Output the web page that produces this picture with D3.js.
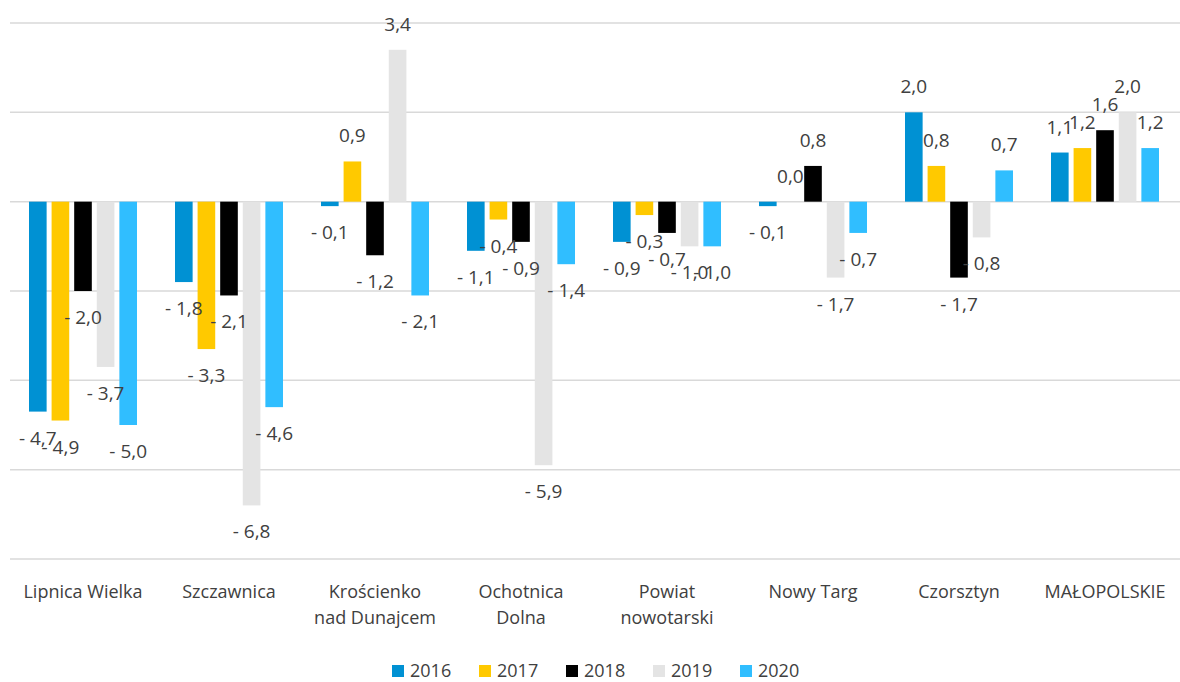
<!DOCTYPE html>
<html>
<head>
<meta charset="utf-8">
<script src="https://cdn.jsdelivr.net/npm/d3@7"></script>
<style>
  body { margin: 0; background: #fff; }
  svg text { font-family: "Open Sans", Lato, sans-serif; fill: #404040; }
</style>
</head>
<body>
<svg id="chart" width="1180" height="682"></svg>
<script>
// categories (lines of each axis label)
var categories = [
    ["Lipnica Wielka"],
    ["Szczawnica"],
    ["Krościenko", "nad Dunajcem"],
    ["Ochotnica", "Dolna"],
    ["Powiat", "nowotarski"],
    ["Nowy Targ"],
    ["Czorsztyn"],
    ["MAŁOPOLSKIE"]
];
var years = ["2016", "2017", "2018", "2019", "2020"];
var colors = ["#0091d3", "#ffc900", "#000000", "#e4e4e4", "#30beff"];

// one array per year, in category order
var v2016 = [-4.7, -1.8, -0.1, -1.1, -0.9, -0.1,  2.0, 1.1];
var v2017 = [-4.9, -3.3,  0.9, -0.4, -0.3,  0.0,  0.8, 1.2];
var v2018 = [-2.0, -2.1, -1.2, -0.9, -0.7,  0.8, -1.7, 1.6];
var v2019 = [-3.7, -6.8,  3.4, -5.9, -1.0, -1.7, -0.8, 2.0];
var v2020 = [-5.0, -4.6, -2.1, -1.4, -1.0, -0.7,  0.7, 1.2];
var series = [v2016, v2017, v2018, v2019, v2020];

var yTicks = [4, 2, 0, -2, -4, -6, -8];

var svg = d3.select('#chart');
var plot = {left: 10, right: 1178, top: 23, bottom: 559};

var x0 = d3.scaleBand()
    .domain(d3.range(categories.length))
    .range([plot.left, plot.right]);
var x1 = d3.scaleBand()
    .domain(years)
    .range([19, x0.bandwidth() - 19])
    .paddingInner(0.22);
var y = d3.scaleLinear()
    .domain([-8, 4])
    .range([plot.bottom, plot.top]);

// gridlines
svg.append('g').attr('class', 'grid')
    .selectAll('line').data(yTicks)
  .enter().append('line')
    .attr('x1', plot.left).attr('x2', 1180)
    .attr('y1', function(d) { return y(d); })
    .attr('y2', function(d) { return y(d); })
    .attr('stroke', '#d9d9d9')
    .attr('stroke-width', 1.5);

var fmt = function(v) {
    var s = Math.abs(v).toFixed(1).replace('.', ',');
    return v < 0 ? '- ' + s : s;
};

var cells = [];
series.forEach(function(vals, si) {
    vals.forEach(function(v, ci) {
        cells.push({ci: ci, year: years[si], color: colors[si], v: v});
    });
});

var groups = svg.append('g').attr('class', 'bars');
groups.selectAll('rect').data(cells)
  .enter().append('rect')
    .attr('x', function(d) { return x0(d.ci) + x1(d.year); })
    .attr('width', x1.bandwidth())
    .attr('y', function(d) { return Math.min(y(d.v), y(0)); })
    .attr('height', function(d) { return Math.abs(y(d.v) - y(0)); })
    .attr('fill', function(d) { return d.color; });

// data labels, outside end
svg.append('g').attr('class', 'labels')
    .selectAll('text').data(cells)
  .enter().append('text')
    .attr('x', function(d) { return x0(d.ci) + x1(d.year) + x1.bandwidth()/2; })
    .attr('y', function(d) { return d.v < 0 ? y(d.v) + 26 : y(d.v) - 26; })
    .attr('dominant-baseline', 'central')
    .attr('text-anchor', 'middle')
    .style('font-size', '19px')
    .text(function(d) { return fmt(d.v); });

// category labels
var cat = svg.append('g').attr('class', 'cats')
    .selectAll('text').data(categories)
  .enter().append('text')
    .attr('text-anchor', 'middle')
    .attr('x', function(d, i) { return x0(i) + x0.bandwidth()/2; })
    .attr('y', 598)
    .style('font-size', '18px');
cat.selectAll('tspan').data(function(d) { return d; })
  .enter().append('tspan')
    .attr('x', function() { return d3.select(this.parentNode).attr('x'); })
    .attr('dy', function(d, i) { return i === 0 ? 0 : 26; })
    .text(function(d) { return d; });

// legend
var leg = svg.append('g').attr('class', 'legend')
    .selectAll('g').data(years)
  .enter().append('g')
    .attr('transform', function(d, i) { return 'translate(' + (392 + i*87) + ',665)'; });
leg.append('rect')
    .attr('width', 12).attr('height', 12)
    .attr('fill', function(d, i) { return colors[i]; });
leg.append('text')
    .attr('x', 18).attr('y', 12)
    .style('font-size', '18px')
    .text(function(d) { return d; });
</script>
</body>
</html>
